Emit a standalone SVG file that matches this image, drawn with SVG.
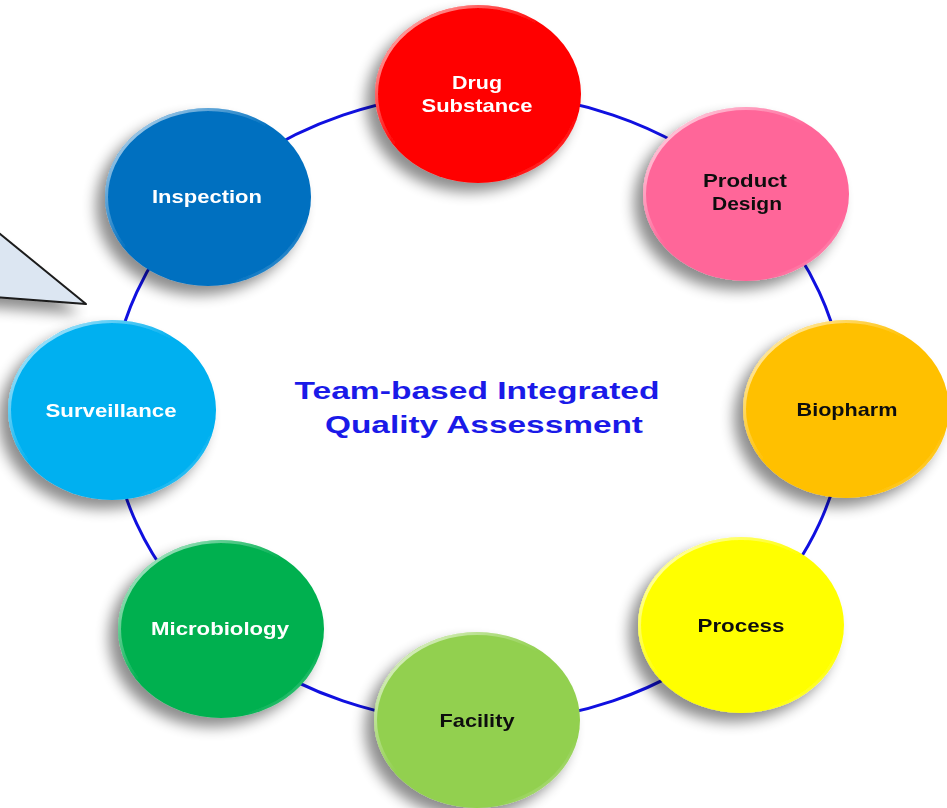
<svg xmlns="http://www.w3.org/2000/svg" width="947" height="808" viewBox="0 0 947 808">
<defs>
<filter id="sh" x="-30%" y="-30%" width="160%" height="160%">
<feGaussianBlur in="SourceAlpha" stdDeviation="7"/>
<feOffset dx="-9" dy="9" result="b"/>
<feComponentTransfer><feFuncA type="linear" slope="0.45"/></feComponentTransfer>
<feMerge><feMergeNode/><feMergeNode in="SourceGraphic"/></feMerge>
</filter>
<linearGradient id="rim" x1="0" y1="0" x2="1" y2="1">
<stop offset="0" stop-color="#fff" stop-opacity="0.85"/>
<stop offset="0.45" stop-color="#fff" stop-opacity="0"/>
<stop offset="0.8" stop-color="#fff" stop-opacity="0"/>
<stop offset="1" stop-color="#fff" stop-opacity="0.5"/>
</linearGradient>
<style>
.n text{font-family:"Liberation Sans",Arial,sans-serif;font-weight:bold;font-size:19px;text-anchor:middle}
.w text{fill:#fff}
.k text{fill:#111}
.rim{fill:none;stroke:url(#rim);stroke-width:3}
.t{font-family:"Liberation Sans",Arial,sans-serif;font-weight:bold;font-size:24px;fill:#1a1ae8;text-anchor:middle}
</style>
</defs>
<rect width="947" height="808" fill="#fff"/>
<g id="callout" filter="url(#sh)">
<polygon points="-6,229 86,304 -6,297" fill="#dce6f2" stroke="#1a1a1a" stroke-width="2" stroke-linejoin="round"/>
</g>
<g id="connectors">
<ellipse cx="478" cy="408" rx="367" ry="315" fill="none" stroke="#1010e0" stroke-width="3"/>
</g>
<g id="drug-substance" class="n w" filter="url(#sh)">
<ellipse cx="478" cy="94" rx="103" ry="89" fill="#ff0000"/>
<ellipse class="rim" cx="478" cy="94" rx="101.5" ry="87.5"/>
<text x="477" y="89" textLength="50" lengthAdjust="spacingAndGlyphs">Drug</text>
<text x="477" y="112" textLength="111" lengthAdjust="spacingAndGlyphs">Substance</text>
</g>
<g id="product-design" class="n k" filter="url(#sh)">
<ellipse cx="746" cy="194" rx="103" ry="87" fill="#ff6699"/>
<ellipse class="rim" cx="746" cy="194" rx="101.5" ry="85.5"/>
<text x="745" y="187" textLength="84" lengthAdjust="spacingAndGlyphs">Product</text>
<text x="747" y="210" textLength="70" lengthAdjust="spacingAndGlyphs">Design</text>
</g>
<g id="biopharm" class="n k" filter="url(#sh)">
<ellipse cx="846" cy="409" rx="103" ry="89" fill="#ffc000"/>
<ellipse class="rim" cx="846" cy="409" rx="101.5" ry="87.5"/>
<text x="847" y="416" textLength="101" lengthAdjust="spacingAndGlyphs">Biopharm</text>
</g>
<g id="process" class="n k" filter="url(#sh)">
<ellipse cx="741" cy="625" rx="103" ry="88" fill="#ffff00"/>
<ellipse class="rim" cx="741" cy="625" rx="101.5" ry="86.5"/>
<text x="741" y="632" textLength="87" lengthAdjust="spacingAndGlyphs">Process</text>
</g>
<g id="facility" class="n k" filter="url(#sh)">
<ellipse cx="477" cy="720" rx="103" ry="88" fill="#92d050"/>
<ellipse class="rim" cx="477" cy="720" rx="101.5" ry="86.5"/>
<text x="477" y="727" textLength="75" lengthAdjust="spacingAndGlyphs">Facility</text>
</g>
<g id="microbiology" class="n w" filter="url(#sh)">
<ellipse cx="221" cy="629" rx="103" ry="89" fill="#00b050"/>
<ellipse class="rim" cx="221" cy="629" rx="101.5" ry="87.5"/>
<text x="220" y="635" textLength="138" lengthAdjust="spacingAndGlyphs">Microbiology</text>
</g>
<g id="surveillance" class="n w" filter="url(#sh)">
<ellipse cx="112" cy="410" rx="104" ry="90" fill="#00b0f0"/>
<ellipse class="rim" cx="112" cy="410" rx="102.5" ry="88.5"/>
<text x="111" y="417" textLength="131" lengthAdjust="spacingAndGlyphs">Surveillance</text>
</g>
<g id="inspection" class="n w" filter="url(#sh)">
<ellipse cx="208" cy="197" rx="103" ry="89" fill="#0070c0"/>
<ellipse class="rim" cx="208" cy="197" rx="101.5" ry="87.5"/>
<text x="207" y="203" textLength="110" lengthAdjust="spacingAndGlyphs">Inspection</text>
</g>
<g id="title">
<text class="t" x="477" y="399" textLength="365" lengthAdjust="spacingAndGlyphs">Team-based Integrated</text>
<text class="t" x="484" y="433" textLength="318" lengthAdjust="spacingAndGlyphs">Quality Assessment</text>
</g>
</svg>
